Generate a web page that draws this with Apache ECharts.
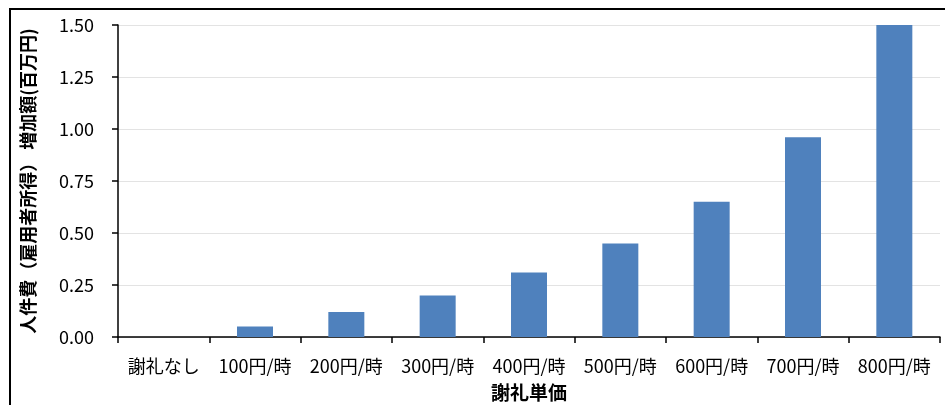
<!DOCTYPE html>
<html>
<head>
<meta charset="utf-8">
<script src="https://cdn.jsdelivr.net/npm/echarts@6/dist/echarts.min.js"></script>
<style>
  html, body { margin: 0; padding: 0; background: #fff; }
  #chart { width: 945px; height: 405px; }
</style>
</head>
<body>
<div id="chart"></div>
<script>
// Hourly reward levels
const categories = ['謝礼なし', '100円/時', '200円/時', '300円/時', '400円/時', '500円/時', '600円/時', '700円/時', '800円/時'];
// Increase in labour cost (employee income), millions of yen
const increaseValues = [0, 0.05, 0.12, 0.20, 0.31, 0.45, 0.65, 0.96, 1.50];
// Value axis ticks
const yMin = 0, yMax = 1.5, yStep = 0.25;

const font = '"Noto Sans CJK JP", "Noto Sans", sans-serif';
const chart = echarts.init(document.getElementById('chart'));

chart.setOption({
  animation: false,
  backgroundColor: '#fff',
  grid: { left: 118, right: 5, top: 25, bottom: 68, outerBoundsMode: 'none', containLabel: false },
  graphic: [{
    type: 'rect',
    shape: { x: 10, y: 9, width: 1000, height: 600 },
    style: { fill: 'none', stroke: '#000', lineWidth: 2 },
    silent: true
  }],
  xAxis: {
    type: 'category',
    data: categories,
    name: '謝礼単価',
    nameLocation: 'middle',
    nameGap: 46,
    nameTextStyle: { fontFamily: font, fontSize: 19, fontWeight: 'bold', color: '#000' },
    axisLine: { lineStyle: { color: '#000', width: 1.5 } },
    axisTick: { show: true, length: 6, lineStyle: { color: '#000', width: 1.5 } },
    axisLabel: { fontFamily: font, fontSize: 18, color: '#000', margin: 20, interval: 0 }
  },
  yAxis: {
    type: 'value',
    min: yMin, max: yMax, interval: yStep,
    name: '人件費（雇用者所得） 増加額(百万円)',
    nameLocation: 'middle',
    nameGap: 81,
    nameTextStyle: { fontFamily: font, fontSize: 18, fontWeight: 'bold', color: '#000' },
    axisLine: { show: true, lineStyle: { color: '#000', width: 1.5 } },
    axisTick: { show: true, length: 6, lineStyle: { color: '#000', width: 1.5 } },
    axisLabel: { fontFamily: font, fontSize: 18, color: '#000', margin: 24,
      formatter: v => v.toFixed(2) },
    splitLine: { lineStyle: { color: '#e3e3e3', width: 1 } }
  },
  series: [{
    type: 'bar',
    data: increaseValues,
    barWidth: 36,
    itemStyle: { color: '#4f81bd' }
  }]
});
</script>
</body>
</html>
